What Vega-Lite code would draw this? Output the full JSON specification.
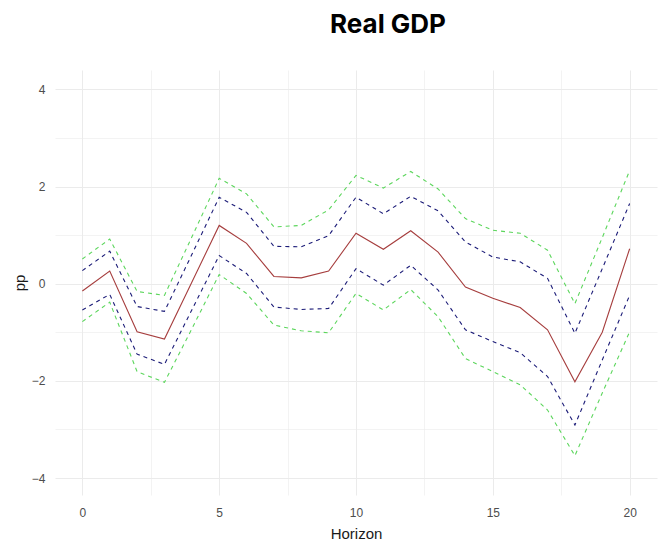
{
  "$schema": "https://vega.github.io/schema/vega-lite/v6.json",
  "width": 602,
  "height": 425,
  "autosize": {"type": "none"},
  "padding": {"left": 55, "top": 70, "right": 7, "bottom": 55},
  "background": "white",
  "title": {"text": "Real GDP", "font": "Inter", "fontWeight": "bold", "fontSize": 26, "color": "#000000", "anchor": "middle", "dx": 32, "offset": 32},
  "config": {
    "view": {"stroke": null},
    "axis": {"domain": false, "ticks": false, "labelFont": "Liberation Sans", "labelFontSize": 12, "labelColor": "#4d4d4d", "titleFont": "Liberation Sans", "titleFontSize": 15, "titleFontWeight": "normal", "titleColor": "#1a1a1a", "gridColor": "#ebebeb"}
  },
  "data": {"values": [
    {"h": 0, "est": -0.15, "hi68": 0.27, "lo68": -0.54, "hi90": 0.51, "lo90": -0.78},
    {"h": 1, "est": 0.26, "hi68": 0.67, "lo68": -0.22, "hi90": 0.92, "lo90": -0.38},
    {"h": 2, "est": -0.99, "hi68": -0.47, "lo68": -1.45, "hi90": -0.16, "lo90": -1.81},
    {"h": 3, "est": -1.14, "hi68": -0.57, "lo68": -1.66, "hi90": -0.24, "lo90": -2.03},
    {"h": 4, "est": 0.03, "hi68": 0.6, "lo68": -0.54, "hi90": 0.96, "lo90": -0.93},
    {"h": 5, "est": 1.2, "hi68": 1.78, "lo68": 0.58, "hi90": 2.17, "lo90": 0.19},
    {"h": 6, "est": 0.83, "hi68": 1.47, "lo68": 0.21, "hi90": 1.85, "lo90": -0.2},
    {"h": 7, "est": 0.15, "hi68": 0.77, "lo68": -0.48, "hi90": 1.17, "lo90": -0.85},
    {"h": 8, "est": 0.12, "hi68": 0.76, "lo68": -0.53, "hi90": 1.2, "lo90": -0.97},
    {"h": 9, "est": 0.26, "hi68": 0.99, "lo68": -0.51, "hi90": 1.52, "lo90": -1.01},
    {"h": 10, "est": 1.04, "hi68": 1.78, "lo68": 0.31, "hi90": 2.23, "lo90": -0.2},
    {"h": 11, "est": 0.71, "hi68": 1.44, "lo68": -0.03, "hi90": 1.97, "lo90": -0.54},
    {"h": 12, "est": 1.09, "hi68": 1.8, "lo68": 0.38, "hi90": 2.31, "lo90": -0.12},
    {"h": 13, "est": 0.65, "hi68": 1.5, "lo68": -0.13, "hi90": 1.95, "lo90": -0.68},
    {"h": 14, "est": -0.07, "hi68": 0.86, "lo68": -0.95, "hi90": 1.34, "lo90": -1.54},
    {"h": 15, "est": -0.3, "hi68": 0.55, "lo68": -1.19, "hi90": 1.1, "lo90": -1.81},
    {"h": 16, "est": -0.49, "hi68": 0.45, "lo68": -1.42, "hi90": 1.04, "lo90": -2.08},
    {"h": 17, "est": -0.95, "hi68": 0.11, "lo68": -1.91, "hi90": 0.69, "lo90": -2.6},
    {"h": 18, "est": -2.02, "hi68": -1.02, "lo68": -2.91, "hi90": -0.41, "lo90": -3.54},
    {"h": 19, "est": -1.0, "hi68": 0.31, "lo68": -1.57, "hi90": 0.95, "lo90": -2.25},
    {"h": 20, "est": 0.72, "hi68": 1.65, "lo68": -0.24, "hi90": 2.33, "lo90": -0.99}
  ]},
  "encoding": {
    "x": {"field": "h", "type": "quantitative", "title": "Horizon",
      "scale": {"domain": [-1, 21], "nice": false, "zero": false},
      "axis": {"values": [0, 2.5, 5, 7.5, 10, 12.5, 15, 17.5, 20], "labelExpr": "datum.value % 5 === 0 ? datum.label : ''", "labelPadding": 12, "titlePadding": 8,
        "gridWidth": {"condition": {"test": "datum.value % 5 === 0", "value": 1}, "value": 0.6}}}
  },
  "layer": [
    {"mark": {"type": "line", "color": "#5cd65c", "strokeWidth": 1.1, "strokeDash": [4, 4]},
     "encoding": {"y": {"field": "hi90", "type": "quantitative", "title": "pp",
       "scale": {"domain": [-4.35, 4.4], "nice": false, "zero": false},
       "axis": {"values": [-4, -3, -2, -1, 0, 1, 2, 3, 4], "labelExpr": "datum.value % 2 === 0 ? datum.label : ''", "labelPadding": 10, "titlePadding": 4,
         "gridWidth": {"condition": {"test": "datum.value % 2 === 0", "value": 1}, "value": 0.6}}}}},
    {"mark": {"type": "line", "color": "#5cd65c", "strokeWidth": 1.1, "strokeDash": [4, 4]},
     "encoding": {"y": {"field": "lo90", "type": "quantitative"}}},
    {"mark": {"type": "line", "color": "#1c1c78", "strokeWidth": 1.1, "strokeDash": [4, 4]},
     "encoding": {"y": {"field": "hi68", "type": "quantitative"}}},
    {"mark": {"type": "line", "color": "#1c1c78", "strokeWidth": 1.1, "strokeDash": [4, 4]},
     "encoding": {"y": {"field": "lo68", "type": "quantitative"}}},
    {"mark": {"type": "line", "color": "#a63e3e", "strokeWidth": 1.1},
     "encoding": {"y": {"field": "est", "type": "quantitative"}}}
  ]
}
